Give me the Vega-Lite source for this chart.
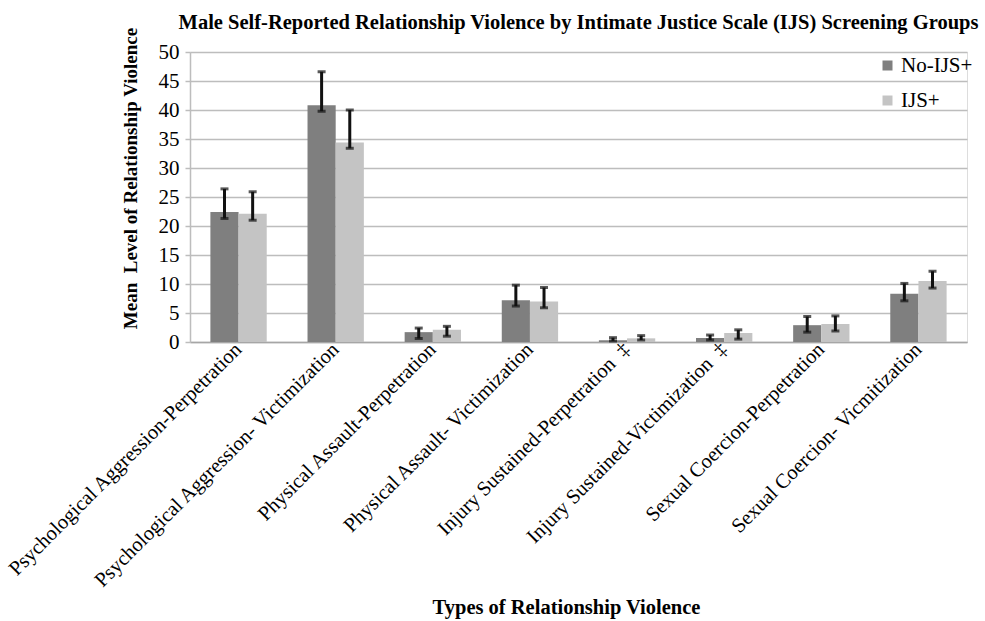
{
  "$schema": "https://vega.github.io/schema/vega-lite/v6.json",
  "autosize": "none",
  "width": 777,
  "height": 290,
  "padding": {"left": 190, "top": 52, "right": 18, "bottom": 279},
  "background": "white",
  "config": {
    "axisY": {"tickCount": 10}
  },
  "title": {
    "text": "Male Self-Reported Relationship Violence by Intimate Justice Scale (IJS) Screening Groups",
    "font": "Liberation Serif",
    "fontSize": 20.5,
    "fontWeight": "bold",
    "color": "#000000",
    "anchor": "middle",
    "offset": -6
  },
  "data": {
    "values": [
      {"type": "Psychological Aggression-Perpetration", "group": "No-IJS+", "mean": 22.4, "lo": 21.3, "hi": 26.4},
      {"type": "Psychological Aggression-Perpetration", "group": "IJS+", "mean": 22.1, "lo": 21.0, "hi": 25.9},
      {"type": "Psychological Aggression- Victimization", "group": "No-IJS+", "mean": 40.8, "lo": 39.8, "hi": 46.6},
      {"type": "Psychological Aggression- Victimization", "group": "IJS+", "mean": 34.4, "lo": 33.4, "hi": 40.0},
      {"type": "Physical Assault-Perpetration", "group": "No-IJS+", "mean": 1.7, "lo": 0.6, "hi": 2.4},
      {"type": "Physical Assault-Perpetration", "group": "IJS+", "mean": 2.1, "lo": 1.0, "hi": 2.7},
      {"type": "Physical Assault- Victimization", "group": "No-IJS+", "mean": 7.2, "lo": 6.2, "hi": 9.8},
      {"type": "Physical Assault- Victimization", "group": "IJS+", "mean": 7.0, "lo": 5.9, "hi": 9.4},
      {"type": "Injury Sustained-Perpetration \u00a0\u2021", "group": "No-IJS+", "mean": 0.3, "lo": 0.17, "hi": 0.75},
      {"type": "Injury Sustained-Perpetration \u00a0\u2021", "group": "IJS+", "mean": 0.63, "lo": 0.35, "hi": 1.1},
      {"type": "Injury Sustained-Victimization \u00a0\u2021", "group": "No-IJS+", "mean": 0.69, "lo": 0.35, "hi": 1.2},
      {"type": "Injury Sustained-Victimization \u00a0\u2021", "group": "IJS+", "mean": 1.55, "lo": 0.5, "hi": 2.1},
      {"type": "Sexual Coercion-Perpetration", "group": "No-IJS+", "mean": 2.9, "lo": 1.7, "hi": 4.4},
      {"type": "Sexual Coercion-Perpetration", "group": "IJS+", "mean": 3.1, "lo": 1.9, "hi": 4.5},
      {"type": "Sexual Coercion- Vicmitization", "group": "No-IJS+", "mean": 8.3, "lo": 7.1, "hi": 10.1},
      {"type": "Sexual Coercion- Vicmitization", "group": "IJS+", "mean": 10.5, "lo": 9.3, "hi": 12.2}
    ]
  },
  "encoding": {
    "x": {
      "field": "type",
      "type": "nominal",
      "sort": null,
      "scale": {"paddingInner": 0.42, "paddingOuter": 0.21},
      "axis": {
        "title": "Types of Relationship Violence",
        "titleFont": "Liberation Serif",
        "titleFontSize": 20.5,
        "titleFontWeight": "bold",
        "titleColor": "#000000",
        "titleX": 376,
        "titleY": 271,
        "titleBaseline": "alphabetic",
        "titleAnchor": "middle",
        "titleAlign": "center",
        "labelAngle": -45,
        "labelAlign": "right",
        "labelBaseline": "middle",
        "labelFont": "Liberation Serif",
        "labelFontSize": 20.5,
        "labelColor": "#000000",
        "labelPadding": 4,
        "labelLimit": 0,
        "ticks": false,
        "domainColor": "#a6a6a6",
        "domainWidth": 1.5
      }
    },
    "xOffset": {
      "field": "group",
      "type": "nominal",
      "sort": ["No-IJS+", "IJS+"],
      "scale": {"paddingInner": 0, "paddingOuter": 0}
    }
  },
  "layer": [
    {
      "mark": {"type": "bar"},
      "encoding": {
        "y": {
          "field": "mean",
          "type": "quantitative",
          "scale": {"domain": [0, 50], "nice": false},
          "axis": {
            "title": "Mean\u00a0 Level of Relationship Violence",
            "titleFont": "Liberation Serif",
            "titleFontSize": 19,
            "titleFontWeight": "bold",
            "titleColor": "#000000",
            "titleX": -60,
            "titleY": 126,
            "titleAngle": -90,
            "titleAlign": "center",
            "titleBaseline": "middle",
            "labelFont": "Liberation Serif",
            "labelFontSize": 21,
            "labelColor": "#000000",
            "labelPadding": 6,
            "tickSize": 5,
            "tickColor": "#bdbdbd",
            "tickWidth": 1.5,
            "gridColor": "#bdbdbd",
            "gridWidth": 1.5,
            "domainColor": "#bdbdbd",
            "domainWidth": 1.5
          }
        },
        "color": {
          "field": "group",
          "type": "nominal",
          "sort": ["No-IJS+", "IJS+"],
          "scale": {"domain": ["No-IJS+", "IJS+"], "range": ["#7f7f7f", "#c4c4c4"]},
          "legend": {
            "title": null,
            "orient": "none",
            "legendX": 687,
            "legendY": 3,
            "padding": 0,
            "symbolType": "square",
            "symbolSize": 100,
            "symbolStrokeWidth": 0,
            "labelFont": "Liberation Serif",
            "labelFontSize": 21,
            "labelColor": "#000000",
            "labelOffset": 3,
            "rowPadding": 13
          }
        }
      }
    },
    {
      "mark": {"type": "rule", "color": "#111111", "strokeWidth": 3},
      "encoding": {
        "y": {"field": "lo", "type": "quantitative"},
        "y2": {"field": "hi"}
      }
    },
    {
      "mark": {"type": "tick", "color": "#111111", "size": 8, "thickness": 3},
      "encoding": {
        "y": {"field": "lo", "type": "quantitative"}
      }
    },
    {
      "mark": {"type": "tick", "color": "#111111", "size": 8, "thickness": 3},
      "encoding": {
        "y": {"field": "hi", "type": "quantitative"}
      }
    }
  ]
}
